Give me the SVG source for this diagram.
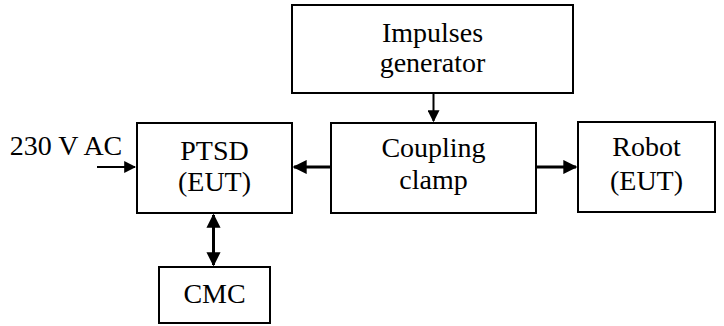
<svg xmlns="http://www.w3.org/2000/svg" width="724" height="326" viewBox="0 0 724 326">
<style>
.box{fill:#fff;stroke:#000;stroke-width:2}
.t{font-family:"Liberation Serif","Times New Roman",serif;font-size:28px;fill:#000;text-anchor:middle}
.c{stroke:#000;stroke-width:3;fill:none}
.thin{stroke:#000;stroke-width:2;fill:none}
</style>
<defs>
<marker id="ah" viewBox="0 0 10 10" refX="9" refY="5" markerWidth="4.7" markerHeight="4.7" markerUnits="strokeWidth" orient="auto-start-reverse">
<path d="M0,0 L10,5 L0,10 z" fill="#000"/>
</marker>
<marker id="ahs" viewBox="0 0 10 10" refX="9" refY="5" markerWidth="6" markerHeight="6" markerUnits="strokeWidth" orient="auto">
<path d="M0,0 L10,5 L0,10 z" fill="#000"/>
</marker>
</defs>
<g id="impulses">
<rect class="box" x="292" y="5" width="281" height="88"/>
<text class="t" x="432.5" y="42">Impulses</text>
<text class="t" x="432.5" y="72">generator</text>
</g>
<g id="ptsd">
<rect class="box" x="137" y="123" width="155" height="90"/>
<text class="t" x="214.5" y="160">PTSD</text>
<text class="t" x="214.5" y="191">(EUT)</text>
</g>
<g id="clamp">
<rect class="box" x="331" y="123" width="205" height="90"/>
<text class="t" x="433.5" y="157">Coupling</text>
<text class="t" x="433.5" y="189">clamp</text>
</g>
<g id="robot">
<rect class="box" x="578" y="122" width="137" height="90"/>
<text class="t" x="646.5" y="156">Robot</text>
<text class="t" x="646.5" y="190">(EUT)</text>
</g>
<g id="cmc">
<rect class="box" x="159" y="267" width="111" height="56"/>
<text class="t" x="214.5" y="303">CMC</text>
</g>
<g id="input">
<text class="t" x="66" y="155">230 V AC</text>
</g>
<g id="connectors">
<line class="thin" x1="433.5" y1="93" x2="433.5" y2="121" marker-end="url(#ahs)"/>
<line class="c" x1="331" y1="167" x2="294" y2="167" marker-end="url(#ah)"/>
<line class="c" x1="536" y1="167" x2="576" y2="167" marker-end="url(#ah)"/>
<line class="thin" x1="97" y1="167" x2="135" y2="167" marker-end="url(#ahs)"/>
<line class="c" x1="213.5" y1="215" x2="213.5" y2="265" marker-start="url(#ah)" marker-end="url(#ah)"/>
</g>
</svg>
